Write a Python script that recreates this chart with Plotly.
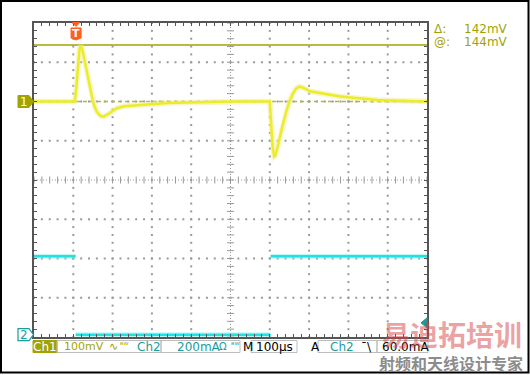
import numpy as np
import plotly.graph_objects as go

CH1_T_US = [0, 50, 100, 104, 108, 112, 116, 119, 122, 126, 130, 134, 138, 142, 146,
            150, 155, 160, 166, 172, 178, 185, 192, 200, 211, 230, 252, 295, 340,
            371, 430, 499, 560, 600, 603, 607, 611, 614, 620, 626, 634, 642, 650,
            658, 666, 675, 685, 702, 730, 753, 780, 812, 840, 873, 931, 1000]
CH1_MV = [0, 0, 0, 0, 40, 95, 135, 142, 136, 118, 98, 82, 62, 42, 21,
          0, -15, -26, -34, -38, -38, -35, -30, -24, -17, -12, -10, -7, -4,
          -3, -1, 0, 0, 0, -50, -115, -140, -138, -115, -87, -55, -25, 0,
          18, 32, 38, 35, 26, 20, 17, 13, 10, 7, 4, 2, 0]

CH2_T_US = [0, 106, None, 106, 602, None, 602, 1000]
CH2_MA = [400, 400, None, 0, 0, None, 400, 400]

CURSOR_MV = 144
DELTA_MV = 142
TRIG_T_US = 107
TRIG_LEVEL_MA = 60

CH1_SCALE, CH1_POS = 100.0, 2.0      # mV/div, ground position (div)
CH2_SCALE, CH2_POS = 200.0, -3.94    # mA/div, ground position (div)

# ---------------- geometry helpers ----------------
W, H = 530, 375
L, R, T, B = 34, 427, 23, 337


def px(x):
    return (x - L) / (R - L)


def py(y):
    return (B - y) / (B - T)


def path(pts):
    return "M " + " L ".join(f"{px(a):.5f},{py(b):.5f}" for a, b in pts) + " Z"


OLIVE = "#a3a300"
TEAL = "#1a9c9c"
YEL = "#ecec28"
CYAN = "#22e0e0"
GRID = "#999999"
FONT = "DejaVu Sans"

ch1_y = [CH1_POS + v / CH1_SCALE for v in CH1_MV]
ch2_y = [None if v is None else CH2_POS + v / CH2_SCALE for v in CH2_MA]

fig = go.Figure()

# grid dots
gx, gy = [], []
for xv in range(100, 1000, 100):
    if xv == 500:
        continue
    for yv in np.arange(-4, 4.001, 0.2):
        gx.append(xv); gy.append(yv)
for yv in [-3, -2, -1, 1, 2, 3]:
    for xv in np.arange(0, 1000.1, 20):
        gx.append(xv); gy.append(yv)
fig.add_trace(go.Scatter(x=gx, y=gy, mode="markers", hoverinfo="skip",
                         marker=dict(symbol="square", size=2, color=GRID, line_width=0)))
# centre lines
fig.add_trace(go.Scatter(x=[0, 1000], y=[0, 0], mode="lines", hoverinfo="skip",
                         line=dict(color=GRID, width=1, dash="1px,2px")))
fig.add_trace(go.Scatter(x=[500, 500], y=[-4, 4], mode="lines", hoverinfo="skip",
                         line=dict(color=GRID, width=1, dash="1px,2px")))
cx = np.arange(0, 1000.1, 20)
fig.add_trace(go.Scatter(x=cx, y=np.zeros_like(cx), mode="markers", hoverinfo="skip",
                         marker=dict(symbol="line-ns", size=5, line=dict(width=1, color=GRID))))
cy = np.arange(-4, 4.001, 0.2)
fig.add_trace(go.Scatter(x=np.full_like(cy, 500), y=cy, mode="markers", hoverinfo="skip",
                         marker=dict(symbol="line-ew", size=5, line=dict(width=1, color=GRID))))

# ch1 ground (dashed) and cursor line
fig.add_trace(go.Scatter(x=[0, 1000], y=[CH1_POS, CH1_POS], mode="lines", hoverinfo="skip",
                         line=dict(color="#b4b43c", width=1.5, dash="4px,3px")))
cur_y = CH1_POS + CURSOR_MV / CH1_SCALE
fig.add_trace(go.Scatter(x=[0, 1000], y=[cur_y, cur_y], mode="lines", hoverinfo="skip",
                         line=dict(color=OLIVE, width=1.5)))

# ch2 trace
fig.add_trace(go.Scatter(x=CH2_T_US, y=ch2_y, mode="lines", hoverinfo="skip",
                         line=dict(color="rgba(120,240,240,0.45)", width=5)))
fig.add_trace(go.Scatter(x=CH2_T_US, y=ch2_y, mode="lines", hoverinfo="skip",
                         line=dict(color=CYAN, width=2.5)))

# ch1 trace
fig.add_trace(go.Scatter(x=CH1_T_US, y=ch1_y, mode="lines", hoverinfo="skip",
                         line=dict(color="rgba(238,238,150,0.5)", width=5.5)))
fig.add_trace(go.Scatter(x=CH1_T_US, y=ch1_y, mode="lines", hoverinfo="skip",
                         line=dict(color=YEL, width=2.5)))

shapes = []
ann = []


def txt(x, y, s, color="black", size=12, anchor="left", family=FONT, **kw):
    ann.append(dict(x=px(x), y=py(y), xref="paper", yref="paper", text=s, showarrow=False,
                    xanchor=anchor, yanchor="middle",
                    font=dict(family=family, size=size, color=color), **kw))


def rect(x0, y0, x1, y1, fill=None, line="#bdbdbd", lw=1):
    shapes.append(dict(type="rect", xref="paper", yref="paper",
                       x0=px(x0), x1=px(x1), y0=py(y1), y1=py(y0),
                       fillcolor=fill if fill else "rgba(0,0,0,0)",
                       line=dict(color=line, width=lw if lw else 0)))


# outer frame
shapes.append(dict(type="rect", xref="paper", yref="paper", x0=px(1), x1=px(528.5),
                   y0=py(372.5), y1=py(1), line=dict(color="black", width=2), layer="below"))

# channel markers on the left
ch1_pix = B - (CH1_POS + 4) / 8 * (B - T)
ch2_pix = B - (CH2_POS + 4) / 8 * (B - T)
shapes.append(dict(type="path", xref="paper", yref="paper",
                   path=path([(18, ch1_pix - 6), (29, ch1_pix - 6), (33.5, ch1_pix),
                              (29, ch1_pix + 6), (18, ch1_pix + 6)]),
                   fillcolor=OLIVE, line=dict(color=OLIVE, width=1)))
txt(23.5, ch1_pix, "1", color="white", size=12, anchor="center")
shapes.append(dict(type="path", xref="paper", yref="paper",
                   path=path([(18, ch2_pix - 6), (29, ch2_pix - 6), (33.5, ch2_pix),
                              (29, ch2_pix + 6), (18, ch2_pix + 6)]),
                   fillcolor="white", line=dict(color=TEAL, width=1.2)))
txt(23.5, ch2_pix, "2", color=TEAL, size=12, anchor="center")

# trigger T marker
tx = L + TRIG_T_US / 1000 * (R - L)
ORANGE = "#ff5f1f"
shapes.append(dict(type="path", xref="paper", yref="paper",
                   path=path([(tx - 3.5, 22.5), (tx + 3.5, 22.5), (tx, 26.5)]),
                   fillcolor=ORANGE, line=dict(color=ORANGE, width=1)))
shapes.append(dict(type="path", xref="paper", yref="paper",
                   path=path([(tx - 5, 28), (tx + 5, 28), (tx + 5, 38), (tx, 40), (tx - 5, 38)]),
                   fillcolor=ORANGE, line=dict(color=ORANGE, width=1)))
txt(tx, 33.5, "<b>T</b>", color="white", size=11, anchor="center")

# trigger level arrow at right edge
tl_pix = B - (CH2_POS + TRIG_LEVEL_MA / CH2_SCALE + 4) / 8 * (B - T)
shapes.append(dict(type="path", xref="paper", yref="paper",
                   path=path([(421, tl_pix), (427, tl_pix - 5), (427, tl_pix + 5)]),
                   fillcolor=TEAL, line=dict(color=TEAL, width=1)))

# cursor readouts
txt(432, 29, "Δ:", color=OLIVE)
txt(462, 29, f"{DELTA_MV}mV", color=OLIVE)
txt(432, 42, "@:", color=OLIVE)
txt(462, 42, f"{CURSOR_MV}mV", color=OLIVE)

# status bar
SY0, SY1, SYM = 340.5, 352.5, 346.8
rect(33, SY0, 57, SY1, fill=OLIVE, line=OLIVE)
txt(45, SYM, "Ch1", color="white", anchor="center")
rect(57, SY0, 161, SY1)
txt(106, SYM, f"{int(CH1_SCALE)}mV", color=OLIVE, size=11, anchor="right")
txt(106.5, SYM, "∿", color=OLIVE, size=11)
txt(118, SYM - 1, "ᴮᵂ", color=OLIVE, size=8)
txt(135, SYM, "Ch2", color=TEAL)
rect(161, SY0, 240, SY1)
txt(175, SYM, f"{int(CH2_SCALE)}mA", color=TEAL)
txt(216.5, SYM, "Ω", color=TEAL, size=10)
txt(228.5, SYM - 1, "ᴮᵂ", color=TEAL, size=8)
txt(240.5, SYM, "M", color="black")
rect(251, SY0, 297, SY1)
txt(254, SYM, "100µs", color="black")
txt(309, SYM, "A", color="black")
rect(318, SY0, 377, SY1)
txt(328, SYM, "Ch2", color=TEAL)
txt(359, SYM, "ˉ\\", color="black")
rect(377, SY0, 428, SY1)
txt(380, SYM, f"{TRIG_LEVEL_MA:.1f}mA", color="black")

# watermark
txt(452, 334, "<b>易迪拓培训</b>", color="rgba(215,70,70,0.5)", size=28,
    anchor="center", family="Noto Sans CJK SC")
txt(451, 363, "<b>射频和天线设计专家</b>", color="#8c8c8c", size=16,
    anchor="center", family="Noto Sans CJK SC")

axis_common = dict(showgrid=False, zeroline=False, showticklabels=False,
                   ticks="inside", ticklen=3, tickcolor="#555", tickwidth=1,
                   showline=True, linecolor="#555", linewidth=2, mirror="ticks",
                   fixedrange=True)
fig.update_layout(
    width=W, height=H, margin=dict(l=L, r=W - R, t=T, b=H - B, pad=0),
    paper_bgcolor="white", plot_bgcolor="white", showlegend=False,
    xaxis=dict(range=[0, 1000], tick0=0, dtick=20, **axis_common),
    yaxis=dict(range=[-4, 4], tick0=-4, dtick=0.2, **axis_common),
    shapes=shapes, annotations=ann,
)

fig.write_html("out.html")
